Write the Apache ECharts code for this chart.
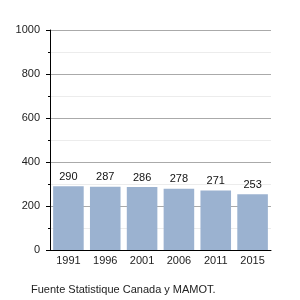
<!DOCTYPE html>
<html><head><meta charset="utf-8">
<script src="https://cdn.jsdelivr.net/npm/echarts@6/dist/echarts.min.js"></script>
<style>html,body{margin:0;padding:0;background:#fff}#c{width:300px;height:300px}</style>
</head><body><div id="c"></div>
<script>
const categories = ['1991','1996','2001','2006','2011','2015'];
const values = [290, 287, 286, 278, 271, 253];
const sourceText = 'Fuente Statistique Canada y MAMOT.';
const font = 'Liberation Sans, Arial, sans-serif';
const chart = echarts.init(document.getElementById('c'), null, {renderer:'canvas'});
chart.setOption({
  animation:false,
  grid:{left:50, top:30, width:221, height:220},
  xAxis:{type:'category', data:categories,
    axisLine:{lineStyle:{color:'#000', width:1}},
    axisTick:{show:false},
    axisLabel:{color:'#222', fontSize:11, fontFamily:font, margin:5}},
  yAxis:{type:'value', min:0, max:1000, interval:200,
    axisLine:{show:true, lineStyle:{color:'#000'}},
    axisTick:{show:true, inside:false, length:4, lineStyle:{color:'#000'}},
    minorTick:{show:true, splitNumber:2, length:2, lineStyle:{color:'#000'}},
    splitLine:{lineStyle:{color:'#aaa', width:1}},
    minorSplitLine:{show:true, lineStyle:{color:'#ececec'}},
    axisLabel:{color:'#222', fontSize:11, fontFamily:font, margin:10, formatter:v=>String(v)}},
  series:[{type:'bar', data:values, barCategoryGap:'17%',
    itemStyle:{color:'#9bb2d0'},
    label:{show:true, position:'top', color:'#111', fontSize:11, fontFamily:font, distance:4}}],
  graphic:[{type:'text', left:31, top:284, style:{text:sourceText, fill:'#222', font:'11px '+font}}]
});
</script></body></html>
